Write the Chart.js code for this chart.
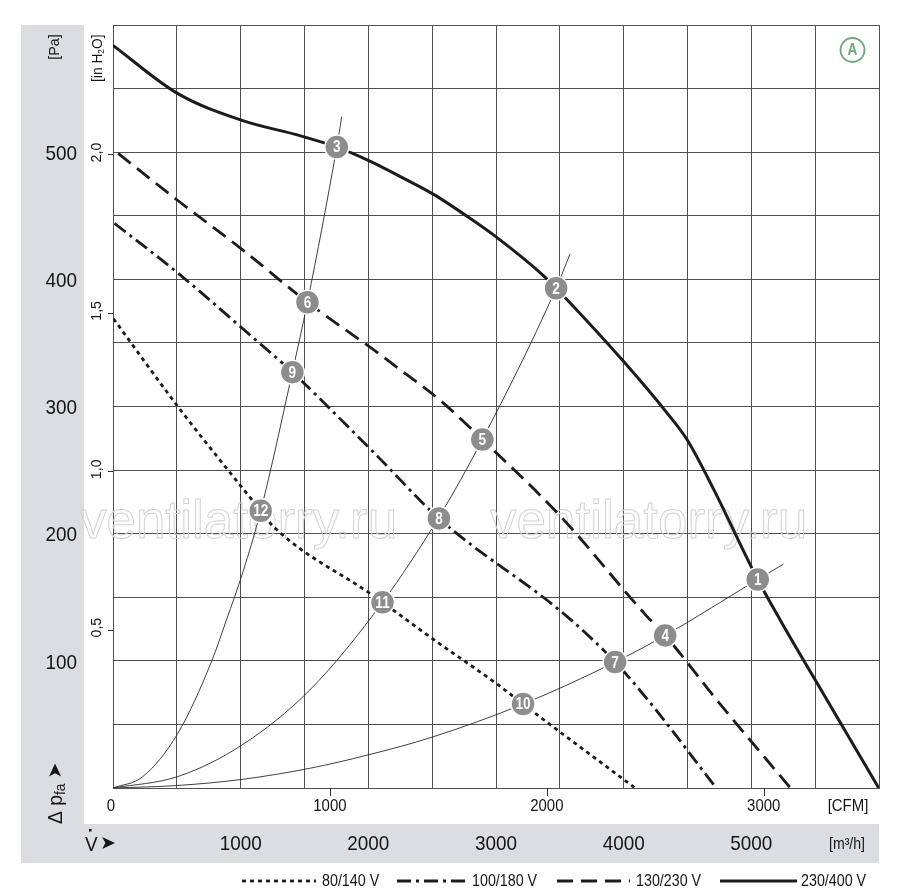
<!DOCTYPE html>
<html><head><meta charset="utf-8">
<script src="https://cdn.jsdelivr.net/npm/chart.js@4.4.1/dist/chart.umd.min.js"></script>
<style>html,body{margin:0;padding:0;background:#fff;}#wrap{width:900px;height:892px;}</style>
</head><body><div id="wrap"><canvas id="c" width="900" height="892"></canvas></div>
<script>
const FONT = "'Liberation Sans', Arial, sans-serif";

// ---- data (x: m³/h, y: Pa) ----
const flow230 = [0, 508, 1010, 1463, 1753, 2012, 2247, 2508, 2796, 3006, 3371, 3471, 4012, 4339, 4496, 4704, 5050, 5227, 5594, 5998];
const pres230 = [584, 546, 525, 513, 504, 493, 481, 467, 448, 433, 403, 393, 334, 295, 274, 235, 164, 132, 69, 0];

const flow130 = [40, 508, 1018, 1523, 2090, 2221, 2561, 2893, 3502, 4182, 4325, 4731, 5306];
const pres130 = [499, 462, 423, 382, 341, 331, 305, 274, 214, 135, 120, 69, 0];

const flow100 = [12, 508, 1018, 1405, 1842, 2090, 2553, 3555, 3933, 4208, 4725];
const pres100 = [444, 405, 361, 327, 284, 259, 212, 135, 99, 67, 0];

const flow80 = [4, 508, 1157, 1253, 2012, 2111, 2508, 3018, 3212, 3502, 4090];
const pres80 = [369, 300, 218, 206, 153, 146, 117, 81, 66, 44, 0];

const sysAFlow = [0, 234, 508, 770, 888, 1018, 1157, 1405, 1523, 1753, 1792];
const sysAPres = [0, 9, 43, 99, 132, 170, 218, 327, 382, 504, 528];
const sysBFlow = [0, 508, 1013, 1541, 2111, 2553, 2893, 3471, 3580];
const sysBPres = [0, 9, 34, 77, 146, 213, 274, 393, 420];
const sysCFlow = [0, 508, 1013, 1541, 1998, 2500, 3212, 3933, 4325, 5050, 5251];
const sysCPres = [0, 2, 6.8, 15.5, 26, 40, 66, 99, 120, 164, 176];

const opLabels = ['1','2','3','4','5','6','7','8','9','10','11','12'];
const opFlow = [5050, 3471, 1753, 4325, 2893, 1523, 3933, 2553, 1405, 3212, 2111, 1157];
const opPres = [164, 393, 504, 120, 274, 382, 99, 212, 327, 66, 146, 218];

const paTicks = [100, 200, 300, 400, 500];
const inH2OTicks = [0.5, 1.0, 1.5, 2.0];
const inH2OLabels = ['0,5', '1,0', '1,5', '2,0'];
const cfmTicks = [0, 1000, 2000, 3000];
const m3hTicks = [1000, 2000, 3000, 4000, 5000];

const PA_PER_INH2O = 249.089;
const M3H_PER_CFM = 1.69901;

function pts(xs, ys) { return xs.map((x, i) => ({ x: x, y: ys[i] })); }

// draw condensed text
function ct(ctx, s, x, y, size, sx, align, rot, weight) {
  ctx.save();
  ctx.translate(x, y);
  if (rot) ctx.rotate(rot);
  ctx.scale(sx, 1);
  ctx.font = (weight || '') + ' ' + size + 'px ' + FONT;
  ctx.textAlign = align || 'center';
  ctx.textBaseline = 'middle';
  ctx.fillText(s, 0, 0);
  const w = ctx.measureText(s).width * sx;
  ctx.restore();
  return w;
}

const bgPlugin = {
  id: 'bg',
  beforeDraw(chart) {
    const ctx = chart.ctx, a = chart.chartArea;
    ctx.save();
    ctx.fillStyle = '#fff';
    ctx.fillRect(0, 0, chart.width, chart.height);
    ctx.fillStyle = '#dcdde0';
    ctx.fillRect(21, a.top, 63, 863 - a.top);
    ctx.fillRect(21, 824, a.right - 21, 39);
    ctx.restore();
  },
  beforeDatasetsDraw(chart) {
    const ctx = chart.ctx;
    ctx.save();
    ctx.font = "53px 'Liberation Sans', Arial, sans-serif";
    ctx.strokeStyle = '#d2d2d2';
    ctx.lineWidth = 1;
    ctx.textBaseline = 'alphabetic';
    ctx.strokeText('ventilatorry.ru', 80, 538);
    ctx.strokeText('ventilatorry.ru', 490, 538);
    ctx.restore();
  }
};

const labelPlugin = {
  id: 'labels',
  afterDatasetsDraw(chart) {
    const ctx = chart.ctx;
    const meta = chart.getDatasetMeta(0);
    ctx.save();
    ctx.fillStyle = '#fff';
    meta.data.forEach((el, i) => { ct(ctx, opLabels[i], el.x, el.y + 1, 16, 0.85, 'center', 0, 'bold'); });
    ctx.restore();
  },
  afterDraw(chart) {
    const ctx = chart.ctx, a = chart.chartArea;
    const xs = chart.scales.x, ys = chart.scales.y;
    ctx.save();
    ctx.fillStyle = '#151515';
    ctx.strokeStyle = '#333';
    ctx.lineWidth = 1;
    // Pa ticks
    paTicks.forEach(v => ct(ctx, String(v), 77, ys.getPixelForValue(v) + 2, 21, 0.9, 'right'));
    // in H2O ticks
    inH2OTicks.forEach((v, i) => {
      const y = ys.getPixelForValue(v * PA_PER_INH2O);
      ctx.beginPath(); ctx.moveTo(a.left - 5, Math.round(y) + 0.5); ctx.lineTo(a.left, Math.round(y) + 0.5); ctx.stroke();
      ct(ctx, inH2OLabels[i], 97, y - 2, 15, 0.95, 'center', -Math.PI / 2);
    });
    // CFM ticks
    cfmTicks.forEach(v => {
      const x = xs.getPixelForValue(v * M3H_PER_CFM);
      if (v > 0) { ctx.beginPath(); ctx.moveTo(Math.round(x) + 0.5, a.bottom); ctx.lineTo(Math.round(x) + 0.5, a.bottom + 8); ctx.stroke(); }
      ct(ctx, String(v), v === 0 ? x - 2 : x, 806, 17, 0.88, 'center');
    });
    ct(ctx, '[CFM]', 848, 806, 17, 0.88, 'center');
    // m3/h ticks
    m3hTicks.forEach(v => ct(ctx, String(v), xs.getPixelForValue(v), 844, 21, 0.9, 'center'));
    ct(ctx, '[m³/h]', 847, 845, 16, 0.88, 'center');
    // axis titles
    ct(ctx, '[Pa]', 55, 47, 15, 0.95, 'center', -Math.PI / 2);
    // [in H2O] rotated
    ctx.save();
    ctx.translate(98, 82); ctx.rotate(-Math.PI / 2);
    let w = ct(ctx, '[in H', 0, 0, 15, 0.92, 'left');
    w += ct(ctx, '2', w, 4, 9, 0.92, 'left');
    ct(ctx, 'O]', w, 0, 15, 0.92, 'left');
    ctx.restore();
    // Δ p_fa
    ctx.save();
    ctx.translate(56, 824); ctx.rotate(-Math.PI / 2);
    w = ct(ctx, 'Δ p', 0, 0, 21, 0.92, 'left');
    w += ct(ctx, 'fa', w, 5, 15, 0.92, 'left') + 5;
    ctx.font = "19px 'DejaVu Sans', sans-serif"; ctx.textAlign = 'left'; ctx.textBaseline = 'middle';
    ctx.fillText('➤', w, 0);
    ctx.restore();
    // V dot
    ct(ctx, 'V', 85, 845, 21, 0.9, 'left');
    ctx.fillRect(89, 829, 2.5, 2.5);
    ctx.font = "19px 'DejaVu Sans', sans-serif"; ctx.textAlign = 'left'; ctx.textBaseline = 'middle';
    ctx.fillText('➤', 100, 844);
    // badge A
    ctx.strokeStyle = '#6fa77a'; ctx.lineWidth = 1.8;
    ctx.beginPath(); ctx.arc(852.5, 50, 12, 0, Math.PI * 2); ctx.stroke();
    ctx.fillStyle = '#6fa77a';
    ct(ctx, 'A', 852.5, 51, 16, 0.85, 'center', 0, 'bold');
    // legend
    const legendItems = [[4, 242, 316, 322], [3, 397, 468, 472], [2, 557, 630, 636], [1, 720, 797, 801]];
    legendItems.forEach(it => {
      const ds = chart.data.datasets[it[0]];
      ctx.save();
      ctx.strokeStyle = ds.borderColor; ctx.lineWidth = ds.borderWidth;
      ctx.setLineDash(ds.borderDash || []);
      ctx.beginPath(); ctx.moveTo(it[1], 881); ctx.lineTo(it[2], 881); ctx.stroke();
      ctx.restore();
      ctx.fillStyle = '#151515';
      ct(ctx, ds.label, it[3], 881, 17, 0.84, 'left');
    });
    ctx.restore();
  }
};

const curve = (label, xs, ys, width, dash) => ({
  label: label, data: pts(xs, ys), borderColor: '#1c1c1c', borderWidth: width, borderDash: dash,
  pointRadius: 0, fill: false, showLine: true, cubicInterpolationMode: 'monotone', order: 1, borderCapStyle: 'butt'
});
const sys = (xs, ys) => ({
  label: '', data: pts(xs, ys), borderColor: '#2a2a2a', borderWidth: 0.9, pointRadius: 0, fill: false,
  showLine: true, cubicInterpolationMode: 'monotone', order: 2
});

new Chart(document.getElementById('c'), {
  type: 'scatter',
  data: {
    datasets: [
      { label: 'points', data: pts(opFlow, opPres), pointRadius: 12, pointBackgroundColor: '#8d8d8d',
        pointBorderColor: '#fff', pointBorderWidth: 1.5, showLine: false, order: 0 },
      curve('230/400 V', flow230, pres230, 3, []),
      curve('130/230 V', flow130, pres130, 2.8, [16, 8]),
      curve('100/180 V', flow100, pres100, 2.8, [14, 5, 3, 5]),
      curve('80/140 V', flow80, pres80, 2.8, [4, 4]),
      sys(sysAFlow, sysAPres),
      sys(sysBFlow, sysBPres),
      sys(sysCFlow, sysCPres)
    ]
  },
  options: {
    responsive: false, animation: false, events: [],
    layout: { padding: { left: 113, top: 25, right: 21, bottom: 104 } },
    plugins: { legend: { display: false }, tooltip: { enabled: false } },
    scales: {
      x: { type: 'linear', min: 0, max: 6000,
        ticks: { display: false, stepSize: 500 },
        grid: { color: '#505050', lineWidth: 1, drawTicks: false },
        border: { color: '#505050', width: 1 } },
      y: { type: 'linear', min: 0, max: 600,
        ticks: { display: false, stepSize: 50 },
        grid: { color: '#505050', lineWidth: 1, drawTicks: false },
        border: { color: '#505050', width: 1 } }
    }
  },
  plugins: [bgPlugin, labelPlugin]
});
</script></body></html>
